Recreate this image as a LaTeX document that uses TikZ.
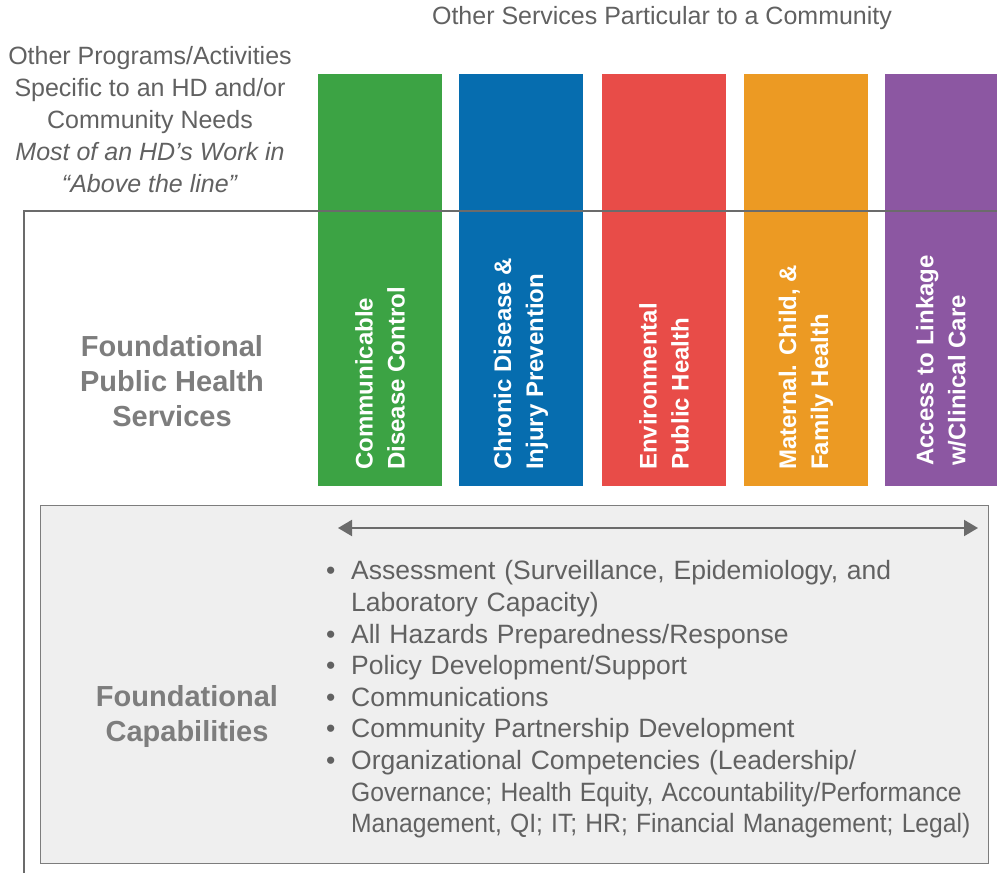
\documentclass[tikz,border=0pt]{standalone}
\usepackage{fontspec}
\usepackage{graphicx}
\setmainfont{Liberation Sans}
\usetikzlibrary{arrows.meta}
\definecolor{cgreen}{HTML}{3CA344}
\definecolor{cblue}{HTML}{066DAF}
\definecolor{cred}{HTML}{E84C48}
\definecolor{corange}{HTML}{EC9A23}
\definecolor{cpurple}{HTML}{8C57A2}
\definecolor{linegray}{HTML}{6B6B6B}
\definecolor{boxgray}{HTML}{EFEFEF}
\definecolor{txtgray}{HTML}{616161}
\definecolor{headgray}{HTML}{7D7D7D}
\newcommand{\capitem}[1]{\par\hangindent=29pt\hangafter=1\noindent\makebox[29pt][l]{\hspace{4pt}\textbullet}#1\par}
\newcommand{\narrowline}[1]{\scalebox{0.93}[1]{#1}}
\tikzset{
  bar/.style={anchor=north west, minimum width=124pt, minimum height=412pt, inner sep=0pt, outer sep=0pt},
  barlabel/.style={rotate=90, anchor=west, align=left, text=white, inner sep=0pt,
    font=\fontsize{24}{32}\selectfont\bfseries},
  headlabel/.style={align=center, text=headgray, font=\fontsize{29}{35}\selectfont\bfseries},
  graytext/.style={align=center, text=txtgray, font=\fontsize{25}{32}\selectfont}
}
\begin{document}
\begin{tikzpicture}[x=1pt, y=-1pt]
  \useasboundingbox (0,0) rectangle (997,873);

  % titles above the line
  \node[graytext] (services) at (662,18) {Other Services Particular to a Community};
  \node[graytext] (programs) at (150,120) {Other Programs/Activities\\Specific to an HD and/or\\Community Needs\\\textit{Most of an HD's Work in}\\\textit{``Above the line''}};

  % service bars
  \node[bar, fill=cgreen] (cdc) at (318,74) {};
  \node[bar, fill=cblue] (chronic) at (459,74) {};
  \node[bar, fill=cred] (env) at (602,74) {};
  \node[bar, fill=corange] (mch) at (744,74) {};
  \node[bar, fill=cpurple, minimum width=112pt] (access) at (885,74) {};

  \node[barlabel] at (cdc.center |- 0,470) {Communicable\\Disease Control};
  \node[barlabel] at (chronic.center |- 0,470) {Chronic Disease \&\\Injury Prevention};
  \node[barlabel] at (env.center |- 0,470) {Environmental\\Public Health};
  \node[barlabel] at (mch.center |- 0,470) {Maternal. Child, \&\\Family Health};
  \node[barlabel] at (access.center |- 0,466) {Access to Linkage\\w/Clinical Care};

  % the line
  \coordinate (L1) at (24,873);
  \coordinate (L2) at (24,211);
  \coordinate (L3) at (997,211);
  \draw[linegray, line width=2pt] (L1) -- (L2) -- (L3);

  \node[headlabel] (fphs) at (172,381) {Foundational\\Public Health\\Services};

  % capabilities box
  \node[anchor=north west, minimum width=948pt, minimum height=358pt, fill=boxgray,
    draw=headgray, line width=1.2pt, inner sep=0pt] (capbox) at (40,505) {};
  \coordinate (A1) at (338,528);
  \coordinate (A2) at (978,528);
  \draw[linegray, line width=2pt, {Triangle[length=14pt,width=16pt]}-{Triangle[length=14pt,width=16pt]}] (A1) -- (A2);

  \node[headlabel] (fc) at (187,716) {Foundational\\Capabilities};

  \node[anchor=north west, inner sep=0pt, text width=670pt, text=txtgray,
    font=\fontsize{26.5}{31.6}\selectfont] (caplist) at (322,548) {%
    \capitem{Assessment (Surveillance, Epidemiology, and\newline Laboratory Capacity)}
    \capitem{All Hazards Preparedness/Response}
    \capitem{Policy Development/Support}
    \capitem{Communications}
    \capitem{Community Partnership Development}
    \capitem{Organizational Competencies (Leadership/\newline \narrowline{Governance; Health Equity, Accountability/Performance}\newline \narrowline{Management, QI; IT; HR; Financial Management; Legal)}}};
\end{tikzpicture}
\end{document}
